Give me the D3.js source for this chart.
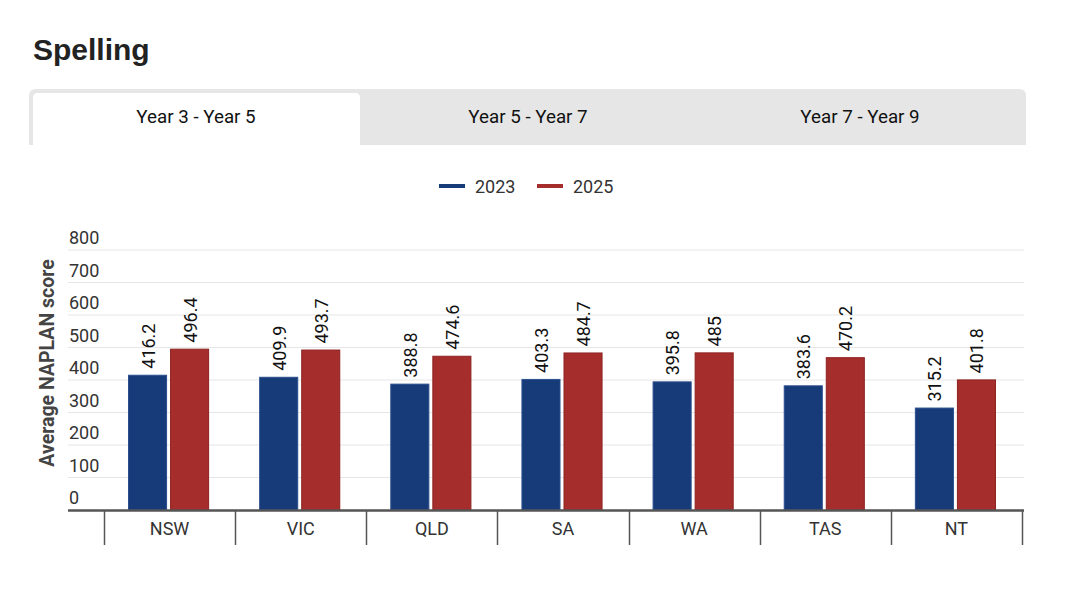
<!DOCTYPE html>
<html>
<head>
<meta charset="utf-8">
<script src="https://cdn.jsdelivr.net/npm/d3@7"></script>
<style>
  body { margin: 0; background: #fff; }
  svg { display: block; }
</style>
</head>
<body>
<div id="chart"></div>
<script>
// chart data
var states = ["NSW", "VIC", "QLD", "SA", "WA", "TAS", "NT"];
var years = ["2023", "2025"];
var scores2023 = [416.2, 409.9, 388.8, 403.3, 395.8, 383.6, 315.2];
var scores2025 = [496.4, 493.7, 474.6, 484.7, 485, 470.2, 401.8];
var yTicks = [0, 100, 200, 300, 400, 500, 600, 700, 800];
var tabs = ["Year 3 - Year 5", "Year 5 - Year 7", "Year 7 - Year 9"];

var width = 1080, height = 607;
var colors = { "2023": "#173a78", "2025": "#a52e2c" };
var strokes = { "2023": "#2a4f8f", "2025": "#8e2220" };
var font = "Roboto, 'Noto Sans', sans-serif";

var svg = d3.select("#chart").append("svg")
    .attr("width", width)
    .attr("height", height);

// title
svg.append("text")
    .attr("x", 33)
    .attr("y", 60)
    .style("font-family", "'Liberation Sans', Arial, Helvetica, sans-serif")
    .style("font-weight", "bold")
    .style("font-size", "30px")
    .style("fill", "#222")
    .text("Spelling");

// tab bar
var tabX = d3.scaleBand().domain(tabs).range([30, 1026]);

svg.append("path")
    .attr("d", roundedTop(29, 89, 997, 56, 7))
    .style("fill", "#e6e6e6");

svg.append("path")
    .attr("d", roundedTop(tabX(tabs[0]) + 3, 93, tabX.bandwidth() - 5, 52, 5))
    .style("fill", "#fff");

svg.selectAll(".tab")
    .data(tabs)
    .enter()
    .append("text")
    .attr("class", "tab")
    .attr("x", d => tabX(d) + tabX.bandwidth() / 2)
    .attr("y", 123)
    .attr("text-anchor", "middle")
    .style("font-family", font)
    .style("font-size", "18.8px")
    .style("fill", "#111")
    .text(d => d);

function roundedTop(x, y, w, h, r) {
    return "M" + x + "," + (y + h) +
        "V" + (y + r) +
        "Q" + x + "," + y + " " + (x + r) + "," + y +
        "H" + (x + w - r) +
        "Q" + (x + w) + "," + y + " " + (x + w) + "," + (y + r) +
        "V" + (y + h) + "Z";
}

// legend
var legendX = { "2023": 439, "2025": 537 };
var legend = svg.selectAll(".legend")
    .data(years)
    .enter()
    .append("g")
    .attr("class", "legend")
    .attr("transform", d => "translate(" + legendX[d] + ",186)");

legend.append("line")
    .attr("x1", 0).attr("x2", 26)
    .attr("y1", 0).attr("y2", 0)
    .style("stroke", d => colors[d])
    .style("stroke-width", 4);

legend.append("text")
    .attr("x", 36)
    .attr("y", 7)
    .style("font-family", font)
    .style("font-size", "18px")
    .style("fill", "#333")
    .text(d => d);

// scales
var plotLeft = 68, plotRight = 1024;
var y = d3.scaleLinear().domain([0, 800]).range([510, 250]);
var x0 = d3.scaleBand().domain(states).range([104, 1022]);
var x1 = d3.scaleBand().domain(years).range([0, x0.bandwidth()])
    .paddingInner(0.071)
    .paddingOuter(0.595);

// gridlines and y labels
svg.selectAll(".grid")
    .data(yTicks.filter(d => d > 0))
    .enter()
    .append("line")
    .attr("class", "grid")
    .attr("x1", plotLeft).attr("x2", plotRight)
    .attr("y1", d => y(d)).attr("y2", d => y(d))
    .style("stroke", "#e6e6e6")
    .style("stroke-width", 1);

svg.selectAll(".ylabel")
    .data(yTicks)
    .enter()
    .append("text")
    .attr("class", "ylabel")
    .attr("x", 69)
    .attr("y", d => y(d) - 6)
    .style("font-family", font)
    .style("font-size", "18px")
    .style("fill", "#333")
    .text(d => d);

svg.append("text")
    .attr("transform", "translate(54,363) rotate(-90)")
    .attr("text-anchor", "middle")
    .style("font-family", font)
    .style("font-weight", "bold")
    .style("font-size", "19.5px")
    .style("fill", "#444")
    .text("Average NAPLAN score");

// bars
var rows = states.map((s, i) => ({ state: s, values: [
    { year: "2023", value: scores2023[i] },
    { year: "2025", value: scores2025[i] }
] }));

var groups = svg.selectAll(".state")
    .data(rows)
    .enter()
    .append("g")
    .attr("class", "state")
    .attr("transform", d => "translate(" + x0(d.state) + ",0)");

groups.selectAll("rect")
    .data(d => d.values)
    .enter()
    .append("rect")
    .attr("x", d => x1(d.year) - 0.5)
    .attr("y", d => y(d.value) + 0.5)
    .attr("width", x1.bandwidth() - 1)
    .attr("height", d => y(0) - y(d.value) - 0.5)
    .style("fill", d => colors[d.year])
    .style("stroke", d => strokes[d.year])
    .style("stroke-width", 1);

groups.selectAll(".value")
    .data(d => d.values)
    .enter()
    .append("text")
    .attr("class", "value")
    .attr("transform", d => "translate(" + (x1(d.year) + x1.bandwidth() / 2 + 6) + "," + (y(d.value) - 6) + ") rotate(-90)")
    .style("font-family", font)
    .style("font-size", "18px")
    .style("fill", "#111")
    .text(d => d.value);

// x axis
svg.append("line")
    .attr("x1", plotLeft).attr("x2", plotRight)
    .attr("y1", 510.5).attr("y2", 510.5)
    .style("stroke", "#555")
    .style("stroke-width", 2.5);

var seps = states.map(s => x0(s)).concat([x0.range()[1]]);
svg.selectAll(".sep")
    .data(seps)
    .enter()
    .append("line")
    .attr("class", "sep")
    .attr("x1", d => Math.round(d) + 0.5).attr("x2", d => Math.round(d) + 0.5)
    .attr("y1", 511).attr("y2", 545)
    .style("stroke", "#555")
    .style("stroke-width", 1.5);

svg.selectAll(".xlabel")
    .data(states)
    .enter()
    .append("text")
    .attr("class", "xlabel")
    .attr("x", d => x0(d) + x0.bandwidth() / 2)
    .attr("y", 535)
    .attr("text-anchor", "middle")
    .style("font-family", font)
    .style("font-size", "18px")
    .style("fill", "#333")
    .text(d => d);
</script>
</body>
</html>
